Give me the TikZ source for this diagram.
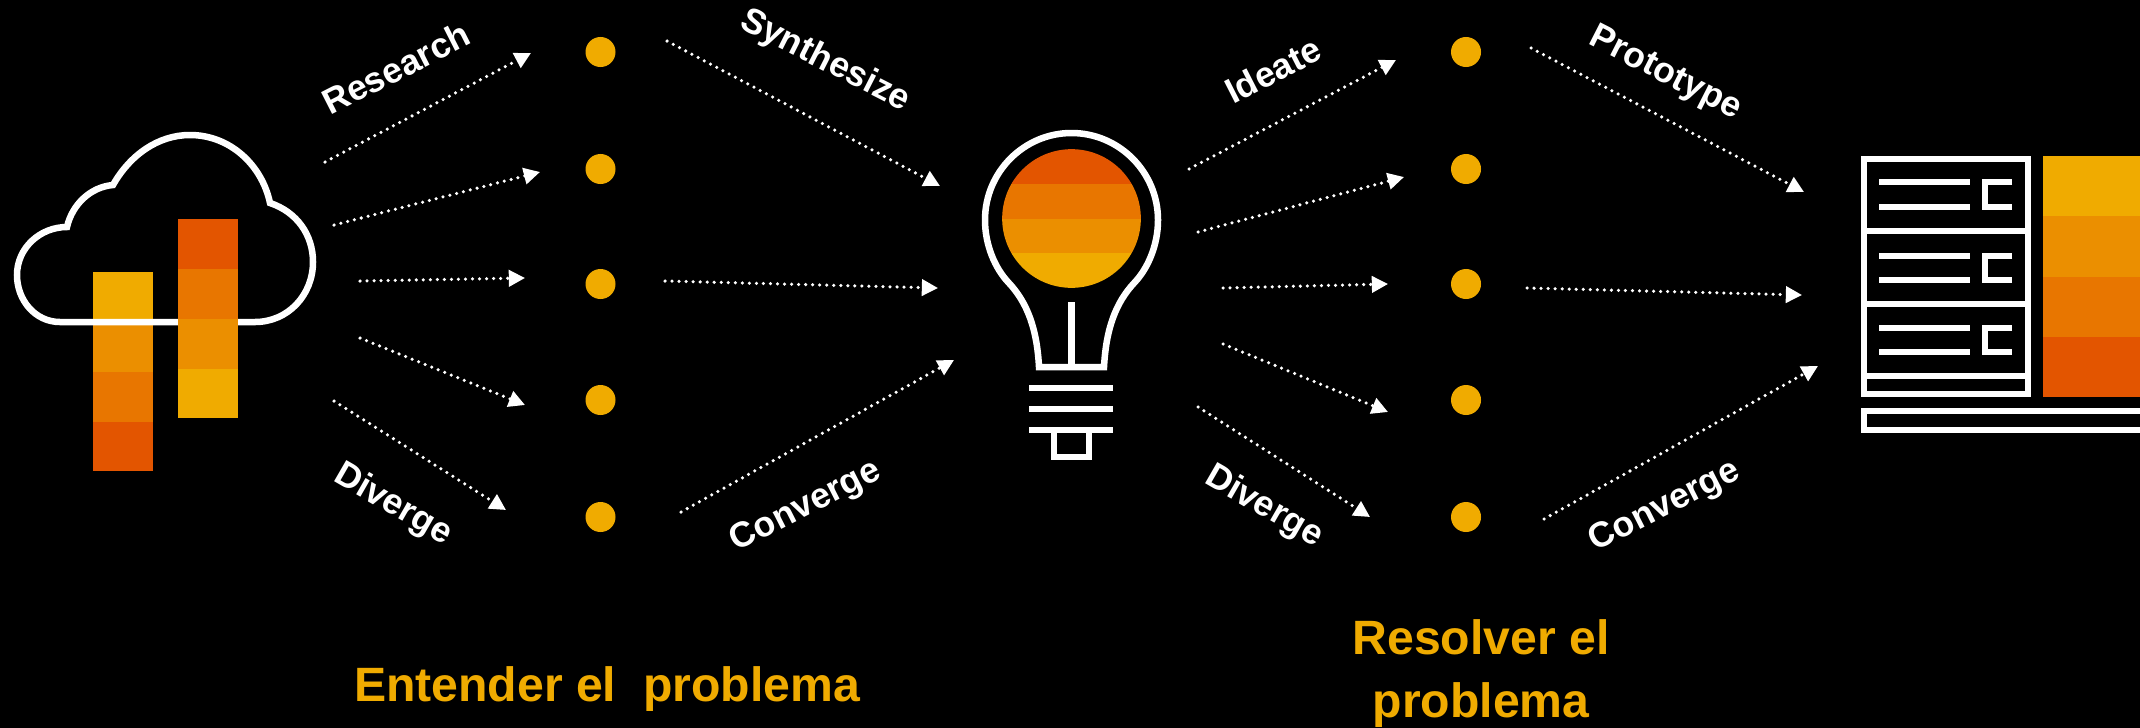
\documentclass[tikz,border=0pt]{standalone}
\usepackage{fontspec}
\setmainfont{Liberation Sans}
\usetikzlibrary{arrows.meta}
\definecolor{gold}{HTML}{F0AB00}
\definecolor{amber}{HTML}{EB8F00}
\definecolor{tangerine}{HTML}{E87600}
\definecolor{rust}{HTML}{E35500}

\begin{document}
\begin{tikzpicture} [x=0.01cm, y=-0.01cm,
		 dot/.style={circle,fill=gold,inner sep=0pt,minimum size=0.3cm},
		 flow/.style={white,line width=1pt,line cap=round,dash pattern=on 0pt off 2pt,-{Triangle[length=4.6pt,width=4.6pt]}},
		 phase/.style={white,font=\fontsize{10.1}{12}\selectfont\bfseries,inner sep=0pt},
		 stage/.style={gold,font=\fontsize{13.7}{17.9}\selectfont\bfseries,align=center,inner sep=0pt},
		 icon/.style={white,line width=1.85pt,miter limit=4}]
\useasboundingbox (0,0) rectangle (2140,727);
\fill[black] (-10,-10) rectangle (2150,737);
% cloud with two bars
\foreach \ya/\yb/\col in {272/322/gold,322/372/amber,372/422/tangerine,422/471/rust}
	\fill[\col] (93,\ya) rectangle (153,\yb);
\draw[icon] (60,322) .. controls (35,322) and (17,300) .. (17,275) .. controls (17,248) and (40,227) .. (67,227)
	.. controls (72,205) and (90,187) .. (113,185) .. controls (130,155) and (158,135) .. (190,135)
	.. controls (230,135) and (262,165) .. (270,203) .. controls (297,212) and (313,235) .. (313,262)
	.. controls (313,295) and (288,322) .. (255,322) -- cycle;
\foreach \ya/\yb/\col in {219/269/rust,269/319/tangerine,319/369/amber,369/418/gold}
	\fill[\col] (178,\ya) rectangle (238,\yb);
% bulb
\begin{scope}
	\clip (1071.5,218.5) circle (0.693cm);
	\foreach \ya/\yb/\col in {149/184/rust,184/219/tangerine,219/253/amber,253/288/gold}
		\fill[\col] (1000,\ya) rectangle (1143,\yb);
\end{scope}
\draw[icon] (1039,367) -- (1104,367) .. controls (1106,330) and (1115,303) .. (1135,282)
	.. controls (1148,268) and (1158,245) .. (1158,220) .. controls (1158,172) and (1119,133) .. (1071.5,133)
	.. controls (1024,133) and (985,172) .. (985,220) .. controls (985,245) and (995,268) .. (1008,282)
	.. controls (1028,303) and (1037,330) .. (1039,367) -- cycle;
\draw[icon] (1071.5,302) -- (1071.5,367);
\foreach \y in {388,409,430}
	\draw[icon] (1029,\y) -- (1113,\y);
\draw[icon] (1054,430) -- (1054,457) -- (1089,457) -- (1089,430);
% server rack
\draw[icon] (1864,159) rectangle (2028,394);
\foreach \y in {231,304,376}
	\draw[icon] (1864,\y) -- (2028,\y);
\foreach \ya/\yb in {182/207,256/280,328/352} {
	\draw[icon] (1879,\ya) -- (1970,\ya);
	\draw[icon] (1879,\yb) -- (1970,\yb);
	\draw[icon] (2012,\ya) -- (1985,\ya) -- (1985,\yb) -- (2012,\yb);
}
\draw[icon] (2140,411) -- (1864,411) -- (1864,430) -- (2140,430);
\foreach \ya/\yb/\col in {156/216/gold,216/277/amber,277/337/tangerine,337/397/rust}
	\fill[\col] (2043,\ya) rectangle (2140,\yb);
% dots
\foreach \name/\y in {a/52,b/169,c/284,d/400,e/517} {
	\node [dot] (left\name) at (600.5,\y) {};
	\node [dot] (right\name) at (1466,\y) {};
}
% dotted arrows
\foreach \name/\xa/\ya/\xb/\yb in {
	ra/325/162/531/53, rb/334/225/540/172, rc/360/281/525/278, rd/360/338/525/405, re/334/401/506/510,
	sa/667/41/940/186, sb/665/281/938/288, sc/681/512/954/360,
	ia/1189/169/1396/60, ib/1198/232/1404/177, ic/1223/288/1388/284, id/1223/344/1388/412, ie/1198/407/1370/517,
	pa/1531/48/1804/192, pb/1527/288/1802/295, pc/1544/519/1818/366} {
	\coordinate (\name from) at (\xa,\ya);
	\coordinate (\name to) at (\xb,\yb);
	\draw [flow] (\name from) -- (\name to);
}
% labels
\node [phase,rotate=27] (research) at (396,68) {Research};
\node [phase,rotate=-27] (synthesize) at (825,61) {Synthesize};
\node [phase,rotate=-30] (divergeleft) at (393,505) {Diverge};
\node [phase,rotate=27] (convergeleft) at (806,507) {Converge};
\node [phase,rotate=27] (ideate) at (1273,70) {Ideate};
\node [phase,rotate=-27] (prototype) at (1665,74) {Prototype};
\node [phase,rotate=-30] (divergeright) at (1264,507) {Diverge};
\node [phase,rotate=27] (convergeright) at (1665,507) {Converge};
\node [stage] (understand) at (607,689) {Entender el\ \ problema};
\node [stage] (solve) at (1481,674) {Resolver el\\problema};
\end{tikzpicture}
\end{document}
